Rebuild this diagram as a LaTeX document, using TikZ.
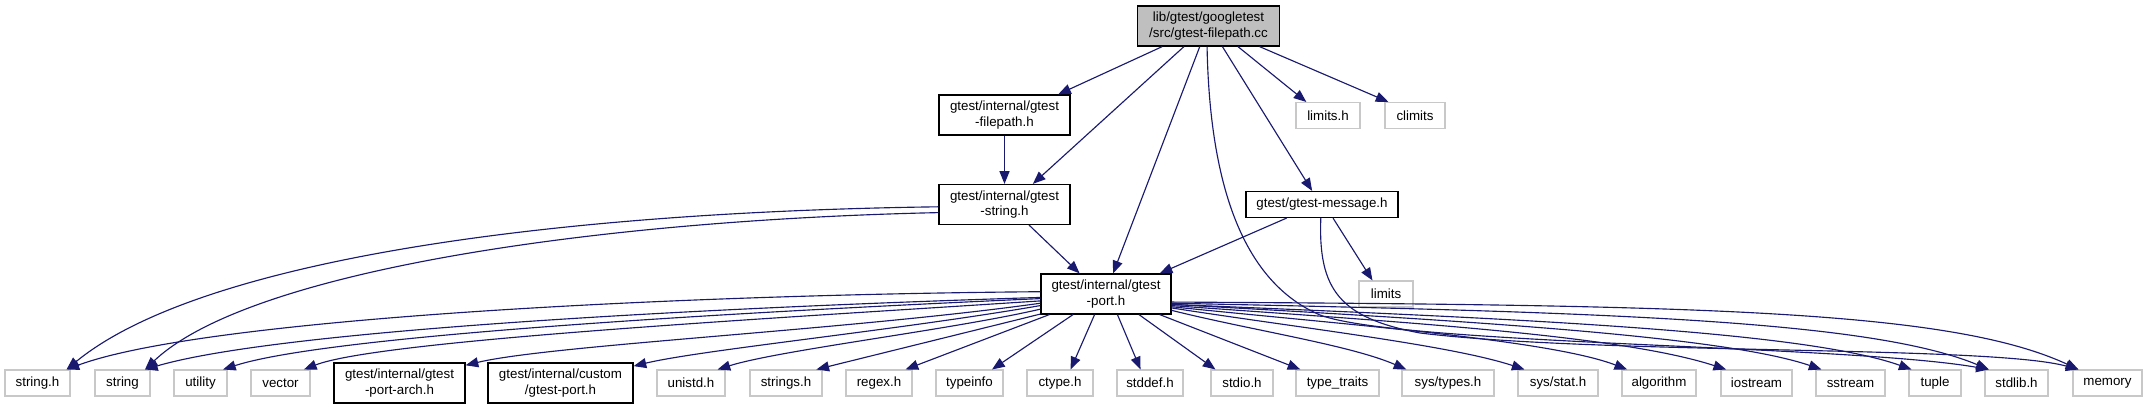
\documentclass[tikz,border=0pt]{standalone}
\usepackage{fontspec}
\setmainfont{Liberation Sans}
\usepackage{tikz}
\usetikzlibrary{arrows.meta}
\definecolor{edgeblue}{RGB}{25,25,112}
\definecolor{rootgray}{RGB}{191,191,191}
\definecolor{sysgray}{RGB}{200,200,200}
\tikzset{
  hdr/.style={rectangle, inner sep=0pt, align=center,
    font=\fontsize{10}{11.5}\selectfont, minimum height=19.5pt},
  rootbox/.style={hdr, draw=black, fill=rootgray, line width=0.9pt, minimum height=30pt},
  docbox/.style={hdr, draw=black, fill=white, line width=0.9pt},
  sysbox/.style={hdr, draw=sysgray, fill=white, line width=0.8pt},
  tall/.style={minimum height=30pt},
  wd/.style={minimum width=#1*0.75pt},
  edge/.style={-{Triangle[length=9.5pt, width=7.5pt]}, line width=0.85pt, color=edgeblue}
}
\begin{document}
\begin{tikzpicture}[x=0.75pt, y=-0.75pt]
  \useasboundingbox (0,0) rectangle (2147,409);

  % top part
  \node[rootbox, wd=142] (root) at (1208.5,26) {lib/gtest/googletest\\/src/gtest-filepath.cc};
  \node[docbox, tall, wd=131] (fpath) at (1004.5,115) {gtest/internal/gtest\\-filepath.h};
  \node[docbox, tall, wd=131] (gstr) at (1004.5,204.5) {gtest/internal/gtest\\-string.h};
  \node[docbox, wd=152] (gmsg) at (1322,204.5) {gtest/gtest-message.h};
  \node[sysbox, wd=64] (limh) at (1328,115.5) {limits.h};
  \node[sysbox, wd=60] (clim) at (1415,115.5) {climits};
  \node[docbox, tall, wd=130] (gport) at (1106,294) {gtest/internal/gtest\\-port.h};
  \node[sysbox, wd=54] (lim) at (1386,294) {limits};

  % bottom row
  \node[sysbox, wd=65] (strh) at (37.5,383) {string.h};
  \node[sysbox, wd=55] (str) at (122.5,383) {string};
  \node[sysbox, wd=53] (util) at (200.5,383) {utility};
  \node[sysbox, wd=59] (vec) at (280.5,383) {vector};
  \node[docbox, tall, wd=131] (parch) at (399.5,383) {gtest/internal/gtest\\-port-arch.h};
  \node[docbox, tall, wd=145] (cust) at (560.5,383) {gtest/internal/custom\\/gtest-port.h};
  \node[sysbox, wd=68] (unistd) at (691,383) {unistd.h};
  \node[sysbox, wd=72] (strs) at (786,383) {strings.h};
  \node[sysbox, wd=66] (regex) at (879,383) {regex.h};
  \node[sysbox, wd=67] (tinfo) at (969.5,383) {typeinfo};
  \node[sysbox, wd=66] (ctype) at (1060,383) {ctype.h};
  \node[sysbox, wd=66] (stddef) at (1150,383) {stddef.h};
  \node[sysbox, wd=62] (stdio) at (1242,383) {stdio.h};
  \node[sysbox, wd=83] (ttraits) at (1337.5,383) {type\_traits};
  \node[sysbox, wd=92] (systypes) at (1448,383) {sys/types.h};
  \node[sysbox, wd=80] (sysstat) at (1558,383) {sys/stat.h};
  \node[sysbox, wd=74] (algo) at (1659,383) {algorithm};
  \node[sysbox, wd=71] (iostr) at (1756.5,383) {iostream};
  \node[sysbox, wd=69] (sstr) at (1850.5,383) {sstream};
  \node[sysbox, wd=52] (tuple) at (1935,383) {tuple};
  \node[sysbox, wd=63] (stdlib) at (2016.5,383) {stdlib.h};
  \node[sysbox, wd=69] (mem) at (2107.5,383) {memory};

  % Edges from the source file
  \draw[edge] (root.204) -- (fpath.21);
  \draw[edge] (root.220) -- (gstr.36);
  \draw[edge] (root.247) -- (gport.71);
  \draw[edge] (root.266) .. controls (1210,200) and (1250,285) .. (1320,315)
    .. controls (1400,345) and (1850,345) .. (stdlib.154);
  \draw[edge] (root.304) -- (gmsg.126);
  \draw[edge] (root.325) -- (limh.148);
  \draw[edge] (root.338) -- (clim.153);

  \draw[edge] (fpath) -- (gstr);

  \draw[edge] (gstr.182) .. controls (550,212) and (200,260) .. (strh.25);
  \draw[edge] (gstr.187) .. controls (600,220) and (250,270) .. (str.31);
  \draw[edge] (gstr.320) -- (gport.142);

  \draw[edge] (gmsg.201) -- (gport.21);
  \draw[edge] (gmsg.309) -- (lim.135);
  \draw[edge] (gmsg.265) .. controls (1318,290) and (1340,318) .. (1420,333)
    .. controls (1600,355) and (1990,345) .. (mem.155);

  % Edges from gtest-port.h
  \draw[edge] (gport.178) .. controls (650,295) and (200,320) .. (strh.25);
  \draw[edge] (gport.183) .. controls (700,308) and (280,330) .. (str.31);
  \draw[edge] (gport.184) .. controls (740,312) and (330,335) .. (util.31);
  \draw[edge] (gport.186) .. controls (780,318) and (380,340) .. (vec.30);
  \draw[edge] (gport.188) .. controls (850,330) and (550,345) .. (parch.15);
  \draw[edge] (gport.190) .. controls (900,330) and (700,350) .. (cust.13);
  \draw[edge] (gport.193) .. controls (950,330) and (780,350) .. (unistd.27);
  \draw[edge] (gport.197) -- (strs.24);
  \draw[edge] (gport.200) -- (regex.27);
  \draw[edge] (gport.212) -- (tinfo.31);
  \draw[edge] (gport.241) -- (ctype.52);
  \draw[edge] (gport.299) -- (stddef.125);
  \draw[edge] (gport.328) -- (stdio.153);
  \draw[edge] (gport.339) -- (ttraits.160);
  \draw[edge] (gport.346) .. controls (1250,330) and (1350,345) .. (systypes.162);
  \draw[edge] (gport.348) .. controls (1300,328) and (1450,345) .. (sysstat.158);
  \draw[edge] (gport.349) .. controls (1350,325) and (1550,340) .. (algo.157);
  \draw[edge] (gport.350) .. controls (1400,322) and (1620,335) .. (iostr.156);
  \draw[edge] (gport.351) .. controls (1450,320) and (1720,335) .. (sstr.155);
  \draw[edge] (gport.351) .. controls (1500,318) and (1800,330) .. (tuple.150);
  \draw[edge] (gport.352) .. controls (1600,312) and (1870,320) .. (stdlib.154);
  \draw[edge] (gport.353) .. controls (1700,305) and (1950,310) .. (mem.155);
\end{tikzpicture}
\end{document}
